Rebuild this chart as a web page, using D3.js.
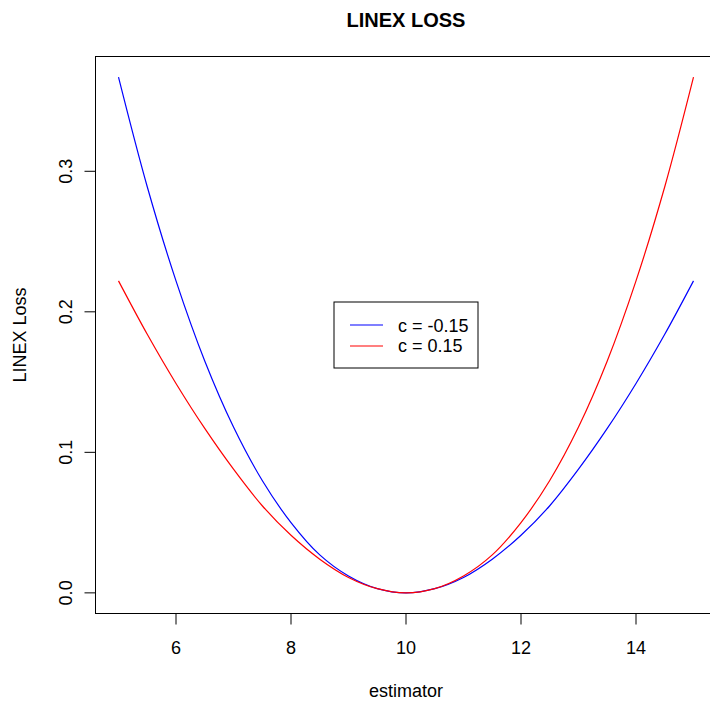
<!DOCTYPE html>
<html>
<head>
<meta charset="utf-8">
<script src="https://cdn.jsdelivr.net/npm/d3@7"></script>
<style>
body { margin: 0; background: #fff; }
text { font-family: "Liberation Sans", Arial, sans-serif; fill: #000; }
</style>
</head>
<body>
<svg id="chart" width="710" height="704"></svg>
<script>
// estimator values and the loss read off for each curve
var estimator = [5, 5.5, 6, 6.5, 7, 7.5, 8, 8.5, 9, 9.5, 10, 10.5, 11, 11.5, 12, 12.5, 13, 13.5, 14, 14.5, 15];
var lossNeg = [0.367, 0.289, 0.222, 0.165, 0.118, 0.080, 0.050, 0.027, 0.012, 0.003, 0, 0.003, 0.011, 0.024, 0.041, 0.062, 0.088, 0.117, 0.149, 0.184, 0.222];
var lossPos = [0.222, 0.184, 0.149, 0.117, 0.088, 0.062, 0.041, 0.024, 0.011, 0.003, 0, 0.003, 0.012, 0.027, 0.050, 0.080, 0.118, 0.165, 0.222, 0.289, 0.367];
var xTicks = [6, 8, 10, 12, 14];
var yTicks = [0, 0.1, 0.2, 0.3];
var seriesNames = ["c = -0.15", "c = 0.15"];
var seriesColors = ["#0000ff", "#ff0000"];

var svg = d3.select("#chart");

// R pads each axis by 4%
var xs = d3.scaleLinear().domain([4.6, 15.4]).range([95.5, 716.5]);
var ys = d3.scaleLinear().domain([-0.01468, 0.38168]).range([613.5, 56.5]);

var line = d3.line()
	.x(function(d, i) { return xs(estimator[i]); })
	.y(function(d) { return ys(d); })
	.curve(d3.curveCatmullRom.alpha(0.5));

[lossNeg, lossPos].forEach(function(s, k) {
	svg.append("path")
	  .datum(s)
	  .attr("d", line)
	  .attr("fill", "none")
	  .attr("stroke", seriesColors[k])
	  .attr("stroke-width", 1.2);
});

// plot box
svg.append("rect")
  .attr("x", 95.5).attr("y", 56.5)
  .attr("width", 621).attr("height", 557)
  .attr("fill", "none")
  .attr("stroke", "#000")
  .attr("stroke-width", 1);

// x axis
var xa = svg.append("g").attr("transform", "translate(0,613.5)");
xa.append("line")
  .attr("x1", xs(6)).attr("x2", xs(14))
  .attr("stroke", "#000");
xa.selectAll(".tick")
  .data(xTicks)
  .enter()
  .append("line")
  .attr("x1", d => xs(d)).attr("x2", d => xs(d))
  .attr("y1", 0).attr("y2", 11)
  .attr("stroke", "#000");
xa.selectAll(".lab")
  .data(xTicks)
  .enter()
  .append("text")
  .attr("x", d => xs(d))
  .attr("y", 40)
  .attr("text-anchor", "middle")
  .style("font-size", "18px")
  .text(d => d);

// y axis
var ya = svg.append("g").attr("transform", "translate(95.5,0)");
ya.append("line")
  .attr("y1", ys(0)).attr("y2", ys(0.3))
  .attr("stroke", "#000");
ya.selectAll(".tick")
  .data(yTicks)
  .enter()
  .append("line")
  .attr("y1", d => ys(d)).attr("y2", d => ys(d))
  .attr("x1", 0).attr("x2", -11)
  .attr("stroke", "#000");
ya.selectAll(".lab")
  .data(yTicks)
  .enter()
  .append("text")
  .attr("transform", d => "translate(-23.5," + ys(d) + ") rotate(-90)")
  .attr("text-anchor", "middle")
  .style("font-size", "18px")
  .text(d => d3.format(".1f")(d));

// titles
svg.append("text")
  .attr("x", 406).attr("y", 26.5)
  .attr("text-anchor", "middle")
  .style("font-size", "20px")
  .style("font-weight", "bold")
  .text("LINEX LOSS");
svg.append("text")
  .attr("x", 406).attr("y", 696.5)
  .attr("text-anchor", "middle")
  .style("font-size", "18px")
  .text("estimator");
svg.append("text")
  .attr("transform", "translate(26,335) rotate(-90)")
  .attr("text-anchor", "middle")
  .style("font-size", "18px")
  .text("LINEX Loss");

// legend
var lg = svg.append("g").attr("transform", "translate(334,302)");
lg.append("rect")
  .attr("width", 144).attr("height", 66)
  .attr("fill", "#fff")
  .attr("stroke", "#000");
seriesNames.forEach(function(n, i) {
	lg.append("line")
	  .attr("x1", 16).attr("x2", 49)
	  .attr("y1", 23 + i * 21).attr("y2", 23 + i * 21)
	  .attr("stroke", seriesColors[i])
	  .attr("stroke-width", 1.2);
	lg.append("text")
	  .attr("x", 64).attr("y", 29.7 + i * 20.5)
	  .style("font-size", "18px")
	  .text(n);
});
</script>
</body>
</html>
